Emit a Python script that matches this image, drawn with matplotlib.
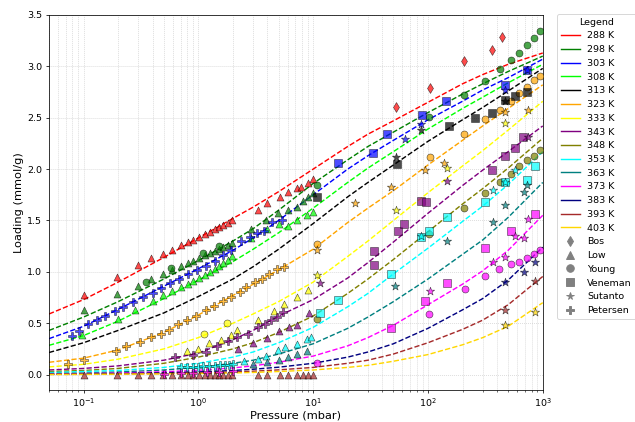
import matplotlib
matplotlib.use("Agg")
import matplotlib.pyplot as plt
from matplotlib.lines import Line2D

# temperatures and their colours
temps = [288, 298, 303, 308, 313, 323, 333, 343, 348, 353, 363, 373, 383, 393, 403]
temp_colors = ['red', 'green', 'blue', 'lime', 'black', 'orange', 'yellow', 'purple',
               'olive', 'cyan', 'teal', 'magenta', 'navy', 'brown', 'gold']

# isotherm fit curves at these pressures (mbar)
curve_p = [0.05, 0.1, 0.2, 0.5, 1, 2, 3, 5, 10, 20, 30, 50, 100, 200, 300, 500, 1000]
fit_288 = [0.59, 0.73, 0.90, 1.14, 1.33, 1.52, 1.63, 1.78, 2.00, 2.22, 2.34, 2.47, 2.65, 2.83, 2.92, 3.02, 3.13]
fit_298 = [0.43, 0.56, 0.71, 0.93, 1.11, 1.30, 1.42, 1.60, 1.86, 2.09, 2.22, 2.36, 2.55, 2.73, 2.83, 2.95, 3.10]
fit_303 = [0.35, 0.47, 0.635, 0.86, 1.03, 1.21, 1.33, 1.50, 1.75, 2.00, 2.13, 2.28, 2.48, 2.66, 2.77, 2.89, 3.07]
fit_308 = [0.285, 0.38, 0.52, 0.74, 0.92, 1.10, 1.22, 1.38, 1.62, 1.87, 2.01, 2.17, 2.39, 2.59, 2.70, 2.84, 3.02]
fit_313 = [0.215, 0.31, 0.43, 0.60, 0.76, 0.93, 1.05, 1.22, 1.47, 1.73, 1.87, 2.04, 2.27, 2.48, 2.60, 2.76, 2.98]
fit_323 = [0.12, 0.16, 0.24, 0.41, 0.58, 0.77, 0.88, 1.02, 1.22, 1.48, 1.62, 1.79, 2.04, 2.28, 2.42, 2.59, 2.82]
fit_333 = [0.075, 0.10, 0.15, 0.25, 0.36, 0.50, 0.59, 0.71, 0.90, 1.15, 1.30, 1.50, 1.77, 2.03, 2.18, 2.38, 2.66]
fit_343 = [0.045, 0.06, 0.085, 0.14, 0.21, 0.34, 0.43, 0.57, 0.73, 0.94, 1.09, 1.29, 1.57, 1.84, 1.99, 2.17, 2.42]
fit_348 = [0.03, 0.04, 0.06, 0.11, 0.17, 0.25, 0.31, 0.41, 0.57, 0.79, 0.93, 1.12, 1.39, 1.66, 1.81, 2.01, 2.30]
fit_353 = [0.02, 0.03, 0.04, 0.07, 0.11, 0.17, 0.22, 0.31, 0.46, 0.66, 0.79, 0.98, 1.23, 1.49, 1.64, 1.85, 2.17]
fit_363 = [0.01, 0.015, 0.025, 0.045, 0.07, 0.11, 0.14, 0.20, 0.30, 0.45, 0.56, 0.71, 0.93, 1.17, 1.31, 1.53, 1.87]
fit_373 = [0.005, 0.01, 0.015, 0.028, 0.042, 0.065, 0.085, 0.12, 0.18, 0.28, 0.36, 0.48, 0.68, 0.88, 1.01, 1.21, 1.55]
fit_383 = [0.003, 0.005, 0.01, 0.018, 0.026, 0.04, 0.052, 0.072, 0.11, 0.17, 0.22, 0.30, 0.45, 0.63, 0.74, 0.92, 1.24]
fit_393 = [0.002, 0.003, 0.006, 0.011, 0.016, 0.025, 0.033, 0.046, 0.07, 0.11, 0.14, 0.20, 0.31, 0.44, 0.53, 0.68, 0.955]
fit_403 = [0.001, 0.002, 0.004, 0.007, 0.01, 0.016, 0.021, 0.03, 0.045, 0.07, 0.09, 0.13, 0.195, 0.29, 0.36, 0.47, 0.70]
fits = [fit_288, fit_298, fit_303, fit_308, fit_313, fit_323, fit_333, fit_343,
        fit_348, fit_353, fit_363, fit_373, fit_383, fit_393, fit_403]

# --- measured data (pressure mbar, loading mmol/g) ---
# Bos
bos_288_p = [52.6, 105, 207, 362, 443]
bos_288_q = [2.60, 2.79, 3.05, 3.16, 3.29]

# Low
low_288_p = [0.1, 0.195, 0.30, 0.39, 0.49, 0.585, 0.71, 0.81, 0.90, 1.01, 1.14, 1.26, 1.39,
             1.52, 1.65, 1.8, 1.95, 3.28, 4.0, 5.13, 6.07, 7.3, 7.9, 8.95, 10.0]
low_288_q = [0.77, 0.95, 1.07, 1.13, 1.17, 1.215, 1.26, 1.29, 1.31, 1.34, 1.365, 1.39, 1.42,
             1.44, 1.46, 1.48, 1.50, 1.60, 1.67, 1.73, 1.78, 1.82, 1.83, 1.86, 1.90]
low_298_p = [0.1, 0.195, 0.3, 0.39, 0.49, 0.585, 0.71, 0.81, 0.9, 1.01, 1.14, 1.26, 1.39,
             1.52, 1.65, 1.8, 1.95, 2.9, 3.9, 4.96, 6.0, 7.2, 8.2, 9.0, 9.9]
low_298_q = [0.63, 0.78, 0.865, 0.93, 0.98, 1.02, 1.06, 1.09, 1.11, 1.13, 1.16, 1.18, 1.20,
             1.22, 1.24, 1.26, 1.28, 1.42, 1.50, 1.57, 1.60, 1.63, 1.69, 1.73, 1.77]
low_308_p = [0.097, 0.2, 0.28, 0.4, 0.49, 0.585, 0.71, 0.81, 0.9, 1.01, 1.14, 1.26, 1.39,
             1.52, 1.65, 1.8, 1.95, 2.9, 4.0, 5.0, 6.07, 7.3, 8.8, 10.0]
low_308_q = [0.385, 0.54, 0.63, 0.72, 0.77, 0.81, 0.85, 0.88, 0.91, 0.94, 0.97, 1.00, 1.03,
             1.06, 1.09, 1.12, 1.15, 1.33, 1.42, 1.47, 1.45, 1.50, 1.55, 1.58]
low_333_p = [0.8, 1.0, 1.23, 1.59, 1.92, 2.15, 3.3, 4.6, 5.6, 7.2, 9.0]
low_333_q = [0.23, 0.25, 0.31, 0.34, 0.39, 0.435, 0.53, 0.62, 0.69, 0.755, 0.825]
low_343_p = [2.2, 3.0, 4.0, 5.0, 6.1, 7.3, 9.2]
low_343_q = [0.25, 0.305, 0.36, 0.42, 0.46, 0.48, 0.60]
low_353_p = [2.5, 3.3, 3.9, 4.96, 5.7, 7.2, 8.8, 9.5]
low_353_q = [0.135, 0.15, 0.185, 0.235, 0.27, 0.30, 0.35, 0.37]
low_363_p = [3.0, 4.0, 5.0, 6.0, 7.3, 8.8]
low_363_q = [0.10, 0.12, 0.14, 0.17, 0.20, 0.23]
low_393_p = [0.1, 0.195, 0.3, 0.39, 0.49, 0.585, 0.71, 0.81, 0.9, 1.01, 1.14, 1.26, 1.39,
             1.52, 1.65, 1.8, 1.95, 3.28, 4.0, 5.1, 6.07, 7.3, 8.2, 8.95, 10.0]
low_393_q = [0.0, 0.0, 0.0, 0.0, 0.0, 0.0, 0.0, 0.0, 0.0, 0.0, 0.0, 0.0, 0.0,
             0.0, 0.0, 0.0, 0.0, 0.0, 0.0, 0.0, 0.0, 0.0, 0.0, 0.0, 0.0]

# Young
young_298_p = [0.35, 0.58, 1.1, 1.5, 10.7, 103, 207, 313, 421, 526, 627, 734, 843, 940]
young_298_q = [0.90, 1.04, 1.18, 1.25, 1.85, 2.51, 2.72, 2.86, 2.97, 3.06, 3.13, 3.21, 3.28, 3.34]
young_323_p = [10.7, 105, 207, 313, 421, 526, 627, 734, 843, 940]
young_323_q = [1.27, 2.12, 2.34, 2.49, 2.58, 2.66, 2.74, 2.80, 2.87, 2.91]
young_333_p = [1.11, 1.76]
young_333_q = [0.40, 0.50]
young_348_p = [10.7, 103, 207, 313, 421, 526, 627, 734, 843, 940]
young_348_q = [0.54, 1.37, 1.62, 1.77, 1.87, 1.95, 2.03, 2.09, 2.13, 2.19]
young_373_p = [10.7, 103, 209, 313, 414, 530, 627, 734, 843, 940]
young_373_q = [0.11, 0.585, 0.83, 0.955, 1.03, 1.08, 1.10, 1.13, 1.17, 1.21]

# Veneman
veneman_303_p = [16.3, 32.9, 43.9, 88, 144, 466, 734]
veneman_303_q = [2.06, 2.16, 2.34, 2.53, 2.66, 2.82, 2.96]
veneman_313_p = [10.9, 53.6, 154, 256, 362, 466, 578, 734]
veneman_313_q = [1.73, 2.05, 2.42, 2.50, 2.55, 2.67, 2.71, 2.75]
veneman_343_p = [33.6, 33.6, 54.7, 61.5, 87.5, 96.5, 362, 466, 570, 670]
veneman_343_q = [1.20, 1.07, 1.40, 1.47, 1.69, 1.68, 1.99, 2.13, 2.21, 2.31]
veneman_353_p = [11.5, 16.6, 47.8, 87.5, 103, 146, 313, 466, 734, 852]
veneman_353_q = [0.60, 0.73, 0.98, 1.34, 1.40, 1.53, 1.68, 1.87, 1.89, 2.03]
veneman_373_p = [47.8, 93.6, 146, 313, 526, 858]
veneman_373_q = [0.45, 0.72, 0.89, 1.235, 1.40, 1.56]

# Sutanto
sutanto_303_p = [62.6, 87.5, 466, 734]
sutanto_303_q = [2.29, 2.44, 2.77, 2.96]
sutanto_313_p = [52.6, 87.5, 466]
sutanto_313_q = [2.12, 2.38, 2.66]
sutanto_323_p = [10.9, 23.1, 47.8, 93.6, 137, 466, 747]
sutanto_323_q = [1.21, 1.67, 1.83, 1.995, 2.06, 2.56, 2.58]
sutanto_333_p = [10.9, 52.6, 146, 466]
sutanto_333_q = [0.965, 1.60, 2.01, 2.45]
sutanto_343_p = [11.5, 146, 747]
sutanto_343_q = [0.89, 1.88, 2.31]
sutanto_353_p = [87.5, 372, 466, 578]
sutanto_353_q = [1.345, 1.80, 1.87, 1.99]
sutanto_363_p = [52, 146, 367, 466, 685, 734]
sutanto_363_q = [0.86, 1.30, 1.49, 1.65, 1.78, 1.85]
sutanto_373_p = [105, 367, 466, 578, 685, 747]
sutanto_373_q = [0.81, 1.095, 1.14, 1.35, 1.33, 1.51]
sutanto_383_p = [466, 685, 858]
sutanto_383_q = [0.905, 1.00, 1.095]
sutanto_393_p = [466, 858]
sutanto_393_q = [0.63, 0.915]
sutanto_403_p = [466, 858]
sutanto_403_q = [0.48, 0.61]

# Petersen
petersen_303_p = [0.079, 0.091, 0.11, 0.13, 0.155, 0.186, 0.22, 0.27, 0.33, 0.40, 0.475, 0.57,
                  0.68, 0.81, 0.97, 1.17, 1.39, 1.65, 1.94, 2.34, 2.8, 3.27, 3.75, 4.4, 5.3]
petersen_303_q = [0.38, 0.42, 0.49, 0.53, 0.575, 0.62, 0.655, 0.705, 0.755, 0.795, 0.845, 0.89,
                  0.93, 0.975, 1.02, 1.055, 1.11, 1.16, 1.21, 1.30, 1.34, 1.38, 1.40, 1.49, 1.50]
petersen_323_p = [0.073, 0.10, 0.19, 0.235, 0.31, 0.39, 0.475, 0.56, 0.66, 0.80, 0.96, 1.16,
                  1.37, 1.64, 1.92, 2.3, 2.62, 3.1, 3.55, 4.1, 4.8, 5.6]
petersen_323_q = [0.105, 0.14, 0.23, 0.28, 0.32, 0.365, 0.40, 0.435, 0.49, 0.53, 0.575, 0.625,
                  0.67, 0.72, 0.76, 0.80, 0.85, 0.90, 0.93, 0.98, 1.03, 1.05]
petersen_343_p = [0.62, 0.9, 1.17, 1.44, 1.8, 2.19, 2.7, 3.3, 3.8, 4.3, 4.8, 5.5]
petersen_343_q = [0.17, 0.195, 0.22, 0.28, 0.33, 0.37, 0.40, 0.46, 0.49, 0.53, 0.565, 0.61]
petersen_353_p = [0.7, 0.8, 0.9, 1.0, 1.1, 1.25, 1.4, 1.55, 1.7, 1.85, 2.0]
petersen_353_q = [0.07, 0.072, 0.075, 0.078, 0.08, 0.083, 0.086, 0.09, 0.093, 0.096, 0.10]
petersen_373_p = [0.5, 0.7, 0.9, 1.2, 1.5, 2.0]
petersen_373_q = [0.01, 0.015, 0.02, 0.025, 0.03, 0.035]

source_names = ['Bos', 'Low', 'Young', 'Veneman', 'Sutanto', 'Petersen']
source_markers = ['d', '^', 'o', 's', '*', 'P']

# (source index, temperature, pressures, loadings)
datasets = [
    (0, 288, bos_288_p, bos_288_q),
    (1, 288, low_288_p, low_288_q),
    (1, 298, low_298_p, low_298_q),
    (1, 308, low_308_p, low_308_q),
    (1, 333, low_333_p, low_333_q),
    (1, 343, low_343_p, low_343_q),
    (1, 353, low_353_p, low_353_q),
    (1, 363, low_363_p, low_363_q),
    (1, 393, low_393_p, low_393_q),
    (2, 298, young_298_p, young_298_q),
    (2, 323, young_323_p, young_323_q),
    (2, 333, young_333_p, young_333_q),
    (2, 348, young_348_p, young_348_q),
    (2, 373, young_373_p, young_373_q),
    (3, 303, veneman_303_p, veneman_303_q),
    (3, 313, veneman_313_p, veneman_313_q),
    (3, 343, veneman_343_p, veneman_343_q),
    (3, 353, veneman_353_p, veneman_353_q),
    (3, 373, veneman_373_p, veneman_373_q),
    (4, 303, sutanto_303_p, sutanto_303_q),
    (4, 313, sutanto_313_p, sutanto_313_q),
    (4, 323, sutanto_323_p, sutanto_323_q),
    (4, 333, sutanto_333_p, sutanto_333_q),
    (4, 343, sutanto_343_p, sutanto_343_q),
    (4, 353, sutanto_353_p, sutanto_353_q),
    (4, 363, sutanto_363_p, sutanto_363_q),
    (4, 373, sutanto_373_p, sutanto_373_q),
    (4, 383, sutanto_383_p, sutanto_383_q),
    (4, 393, sutanto_393_p, sutanto_393_q),
    (4, 403, sutanto_403_p, sutanto_403_q),
    (5, 303, petersen_303_p, petersen_303_q),
    (5, 323, petersen_323_p, petersen_323_q),
    (5, 343, petersen_343_p, petersen_343_q),
    (5, 353, petersen_353_p, petersen_353_q),
    (5, 373, petersen_373_p, petersen_373_q),
]

fig = plt.figure(figsize=(635 / 68, 422 / 68), dpi=68)
ax = fig.add_axes([0.0772, 0.0758, 0.7775, 0.8887])

# fitted curves
for t, c, q in zip(temps, temp_colors, fits):
    ax.plot(curve_p, q, '--', color=c, lw=1.5, zorder=2)

# experimental points
for src, t, p, q in datasets:
    c = temp_colors[temps.index(t)]
    m = source_markers[src]
    size = 85 if m == '*' else 55
    ax.scatter(p, q, marker=m, s=size, color=c, alpha=0.7,
               edgecolors='black', linewidths=0.6, zorder=3)

ax.set_xscale('log')
ax.set_xlim(0.05, 1000)
ax.set_ylim(-0.15, 3.5)
ax.set_yticks([0.0, 0.5, 1.0, 1.5, 2.0, 2.5, 3.0, 3.5])
ax.grid(True, which='both', linestyle=':', color='#c8c8c8', lw=0.8)
ax.set_axisbelow(True)
ax.set_xlabel('Pressure (mbar)', fontsize=12, labelpad=1)
ax.set_ylabel('Loading (mmol/g)', fontsize=12)

handles = [Line2D([0], [0], color=c, lw=1.5) for c in temp_colors]
labels = [f'{t} K' for t in temps]
for name, m in zip(source_names, source_markers):
    handles.append(Line2D([0], [0], marker=m, color='gray', linestyle='None', markersize=8))
    labels.append(name)

fig.legend(handles, labels, loc='upper left', bbox_to_anchor=(557 / 635, 1 - 14 / 422),
           borderaxespad=0, title='Legend', fontsize=10, title_fontsize=10)

fig.savefig('out.png', dpi=68)
